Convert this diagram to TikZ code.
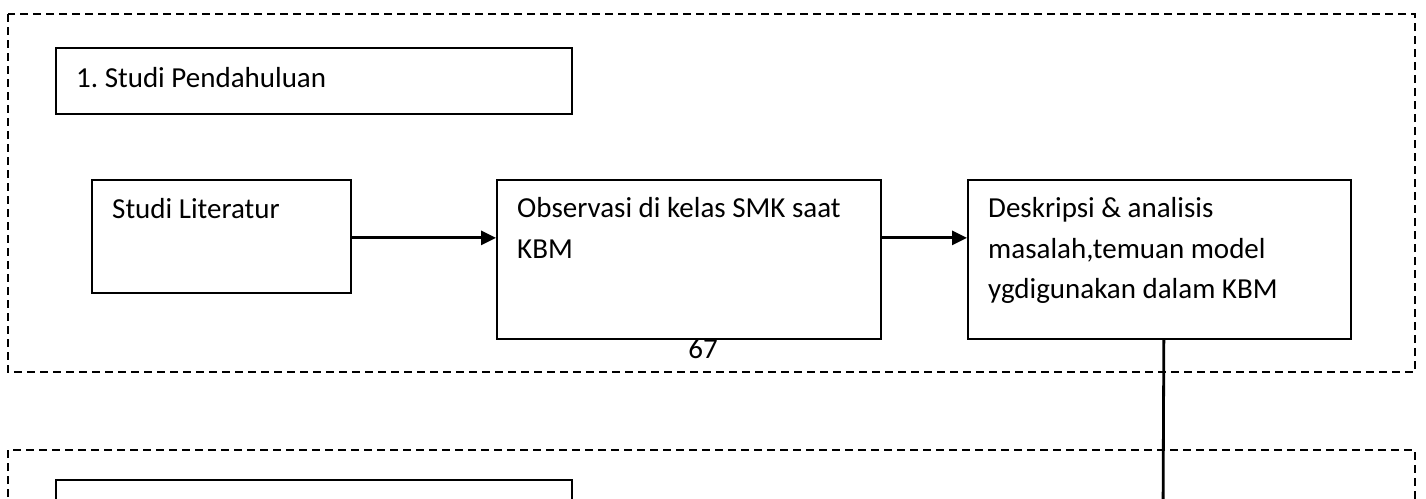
\documentclass[tikz,border=0pt]{standalone}
\usepackage{fontspec}
\setmainfont{Carlito}
\usetikzlibrary{arrows.meta,calc}
\begin{document}
\frenchspacing
\begin{tikzpicture}[x=1pt,y=-1pt,
  box/.style={draw=black,line width=1.7pt,rectangle,inner sep=0pt,anchor=north west},
  frame/.style={draw=black,line width=1.8pt,dash pattern=on 8pt off 5pt},
  arr/.style={line width=2.8pt,-{Triangle[length=15pt,width=14pt]}},
  conn/.style={line width=2.8pt},
  txt/.style={anchor=base west,inner sep=0pt,font=\fontsize{29}{40}\selectfont}
]
\useasboundingbox (0,0) rectangle (1426,498);
\clip (0,0) rectangle (1426,498);
\fill[white] (0,0) rectangle (1426,498);
% dashed frames
\draw[frame] (8,14) rectangle (1415,372);
\draw[frame] (8,510) -- (8,450) -- (1415,450) -- (1415,510);
% boxes
\node[box,minimum width=516pt,minimum height=66pt] (title) at (55,47) {};
\node[box,minimum width=259pt,minimum height=113pt] (lit) at (91,179) {};
\node[box,minimum width=384pt,minimum height=159pt] (obs) at (496,179) {};
\node[box,minimum width=383pt,minimum height=159pt] (desk) at (967,179) {};
\node[box,minimum width=516pt,minimum height=66pt] (title2) at (55,479) {};
% texts
\node[txt] (titleT) at (76,87) {1. Studi Pendahuluan};
\node[txt] (litT) at (112,218) {Studi Literatur};
\node[txt] (obsT1) at (517,217) {Observasi di kelas SMK saat};
\node[txt] (obsT2) at (517,258) {KBM};
\node[txt] (deskT1) at (988,217) {Deskripsi \& analisis};
\node[txt] (deskT2) at (988,258) {masalah,temuan model};
\node[txt] (deskT3) at (988,298) {ygdigunakan dalam KBM};
\node[txt,anchor=base] (page) at (703,358) {67};
% connectors
\draw[arr] ([yshift=-1.5pt]lit.east) -- ([yshift=-1.5pt]lit.east -| obs.west);
\draw[arr] ([yshift=21.5pt]obs.east) -- ([yshift=21.5pt]desk.west);
\coordinate (down) at (1163,520);
\draw[conn] ([xshift=4.5pt]desk.south) -- (down);
\end{tikzpicture}
\end{document}
